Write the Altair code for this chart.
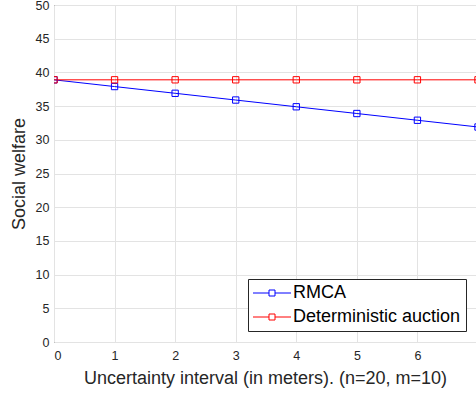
import altair as alt
import pandas as pd

x_vals = [0, 1, 2, 3, 4, 5, 6, 7]
rmca = [38.9, 37.9, 36.9, 35.9, 34.9, 33.9, 32.9, 31.9]
deterministic = [38.9, 38.9, 38.9, 38.9, 38.9, 38.9, 38.9, 38.9]
y_ticks = [0, 5, 10, 15, 20, 25, 30, 35, 40, 45, 50]
series_names = ["RMCA", "Deterministic auction"]
series_colors = ["#0000ff", "#ff0000"]

rows = []
for xv, v in zip(x_vals, rmca):
    rows.append({"x": xv, "y": v, "series": series_names[0]})
for xv, v in zip(x_vals, deterministic):
    rows.append({"x": xv, "y": v, "series": series_names[1]})
df = pd.DataFrame(rows)

FONT = "Liberation Sans"
TXT = "#262626"

sym_path = "M-2.375,0L-0.375,0M0.375,0L2.375,0M-0.375,-0.375L0.375,-0.375L0.375,0.375L-0.375,0.375Z"

xscale = alt.Scale(domain=[0, 6.967], nice=False, zero=False)
yscale = alt.Scale(domain=[0, 50], nice=False)
color = alt.Color(
    "series:N",
    scale=alt.Scale(domain=series_names, range=series_colors),
    sort=series_names,
    legend=alt.Legend(
        title=None,
        orient="none",
        legendX=194,
        legendY=274,
        symbolType=sym_path,
        symbolSize=256,
        symbolStrokeWidth=1,
        symbolFillColor="transparent",
        symbolOffset=10,
        labelFont=FONT,
        labelFontSize=18,
        labelColor="#000000",
        labelOffset=12,
        labelLimit=400,
        rowPadding=6,
        padding=5,
        strokeColor=TXT,
        fillColor="white",
        cornerRadius=0,
    ),
)

base = alt.Chart(df).encode(
    x=alt.X(
        "x:Q",
        scale=xscale,
        axis=alt.Axis(
            title="Uncertainty interval (in meters). (n=20, m=10)",
            values=x_vals,
            format="d",
            grid=True,
            ticks=False,
            domain=False,
            labelPadding=7,
            titlePadding=8,
        ),
    ),
    y=alt.Y(
        "y:Q",
        scale=yscale,
        axis=alt.Axis(
            title="Social welfare",
            values=y_ticks,
            grid=True,
            ticks=False,
            domain=False,
            labelPadding=5,
            titlePadding=7,
        ),
    ),
    color=color,
)

lines = base.mark_line(strokeWidth=1, clip=True)
points = base.mark_point(shape="square", filled=False, size=40, strokeWidth=1, clip=True, opacity=1)

chart = (
    alt.layer(lines, points)
    .properties(
        width=422,
        height=337,
        autosize=alt.AutoSizeParams(type="none"),
        padding={"left": 54, "top": 5, "right": 0, "bottom": 52},
    )
    .configure(background="white")
    .configure_view(stroke=TXT, strokeWidth=1)
    .configure_axis(
        labelFont=FONT,
        labelFontSize=12.5,
        labelColor=TXT,
        titleFont=FONT,
        titleFontSize=18,
        titleFontWeight="normal",
        titleColor=TXT,
        gridColor="#e3e3e3",
        gridWidth=1,
    )
)

chart.save("out.html", embed_options={"renderer": "svg", "actions": False})
